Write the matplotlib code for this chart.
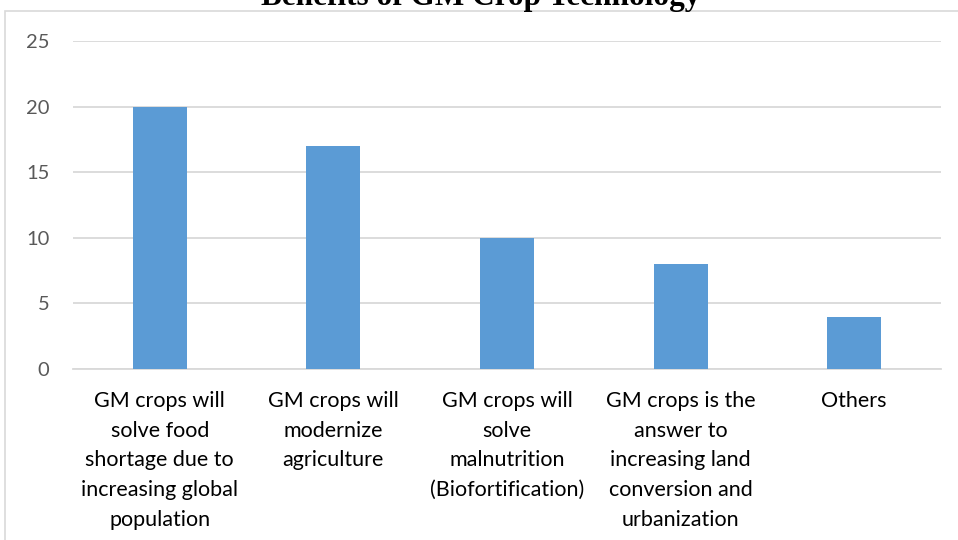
import matplotlib
matplotlib.use("Agg")
import matplotlib.pyplot as plt
from matplotlib.patches import Rectangle

categories = [
    "GM crops will\nsolve food\nshortage due to\nincreasing global\npopulation",
    "GM crops will\nmodernize\nagriculture",
    "GM crops will\nsolve\nmalnutrition\n(Biofortification)",
    "GM crops is the\nanswer to\nincreasing land\nconversion and\nurbanization",
    "Others",
]
values = [20, 17, 10, 8, 4]
yticks = [0, 5, 10, 15, 20, 25]
title = "Benefits of GM Crop Technology"

W, H = 958, 540
fig = plt.figure(figsize=(W / 100, H / 100), dpi=100)
fig.patch.set_facecolor("white")

# chart frame (cropped on right/bottom)
fig.patches.append(Rectangle((5 / W, -0.1), 1.2, 1.1 - 11 / H,
                             transform=fig.transFigure, fill=False,
                             edgecolor="#d9d9d9", linewidth=1.2))

fig.text(0.502, 1 - 5 / H, title, ha="center", va="baseline",
         fontsize=22.5, fontweight="bold", family="Liberation Serif", color="black")

ax = fig.add_axes([73 / W, 1 - 369 / H, (941 - 73) / W, (369 - 41) / H])
x = list(range(len(categories)))
ax.bar(x, values, width=0.31, color="#5b9bd5", zorder=3)
ax.set_xlim(-0.5, len(categories) - 0.5)
ax.set_ylim(0, 25)
ax.set_yticks(yticks)
ax.yaxis.grid(True, color="#d9d9d9", linewidth=1.3, zorder=0)
for s in ["top", "right", "left"]:
    ax.spines[s].set_visible(False)
ax.spines["bottom"].set_color("#d9d9d9")
ax.spines["bottom"].set_linewidth(1.3)
ax.tick_params(axis="both", length=0)
ax.tick_params(axis="y", pad=17, labelcolor="#595959", labelsize=14.5)
ax.tick_params(axis="x", pad=16, labelcolor="black", labelsize=15.5)
ax.set_xticks(x)
ax.set_xticklabels(categories, linespacing=1.6, family="Lato")
for lbl in ax.get_yticklabels():
    lbl.set_family("Lato")

fig.savefig("out.png", dpi=100)
